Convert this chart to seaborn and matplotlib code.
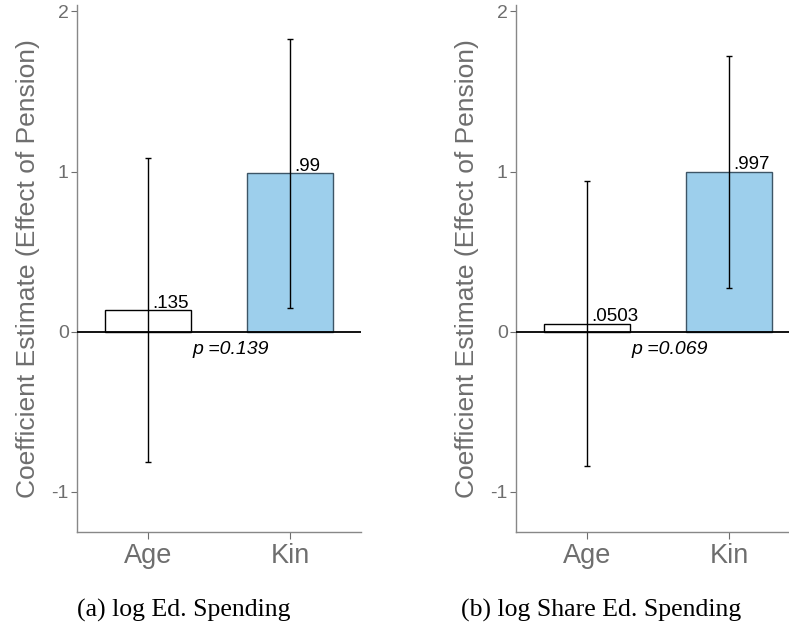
"""
Pension effect on education spending: Age vs Kin coefficient estimates.
"""

import numpy as np
import pandas as pd
import matplotlib
matplotlib.use('Agg')
import matplotlib.pyplot as plt
import seaborn as sns

sns.set_style('white')
plt.rcParams['font.family'] = ['Liberation Sans', 'DejaVu Sans']

# Data
categories = ['Age', 'Kin']
est_a = [0.135, 0.99]
ci_a = [0.95, 0.84]          # half-width of CI
est_b = [0.0503, 0.997]
ci_b = [0.89, 0.725]
labels_a = ['.135', '.99']
labels_b = ['.0503', '.997']
pvals = ['0.139', '0.069']
captions = ['(a) log Ed. Spending', '(b) log Share Ed. Spending']

bar_colors = ['white', '#9dcfec']
edge_colors = ['black', '#3d5566']
gray = '#6e6e6e'

fig = plt.figure(figsize=(7.89, 6.28), dpi=100)
ax_a = fig.add_axes([77 / 789, 96 / 628, 284 / 789, 527 / 628])
ax_b = fig.add_axes([516 / 789, 96 / 628, 284 / 789, 527 / 628])

panels = [
    (ax_a, est_a, ci_a, labels_a, pvals[0], captions[0], 184),
    (ax_b, est_b, ci_b, labels_b, pvals[1], captions[1], 601),
]

for ax, est, ci, labs, p, cap, cap_x in panels:
    df = pd.DataFrame({'group': categories, 'estimate': est})
    sns.barplot(data=df, x='group', y='estimate', hue='group',
                palette=bar_colors, width=0.6, errorbar=None,
                saturation=1, legend=False, ax=ax, zorder=2)
    for patch, ec in zip(ax.patches, edge_colors):
        patch.set_edgecolor(ec)
        patch.set_linewidth(1.0)

    xs = np.arange(len(categories))
    ax.errorbar(xs, est, yerr=ci, fmt='none', ecolor='black',
                elinewidth=1.0, capsize=2.5, capthick=1.0, zorder=4)
    ax.axhline(0, color='black', linewidth=1.3, zorder=3)

    for x, v, lab in zip(xs, est, labs):
        ax.annotate(lab, (x, v), xytext=(3, -1), textcoords='offset points',
                    ha='left', va='bottom', fontsize=13.5, color='black',
                    zorder=5)

    ax.text(0.58, -0.11, f'p ={p}', ha='center', va='center',
            fontsize=14, style='italic', color='black')

    ax.set_xlim(-0.5, 1.5)
    ax.set_ylim(-1.25, 2.04)
    ax.set_yticks([-1, 0, 1, 2])
    ax.set_yticklabels(['-1', '0', '1', '2'])
    ax.set_xlabel('')
    ax.set_ylabel('Coefficient Estimate (Effect of Pension)', fontsize=19,
                  color=gray, labelpad=8)

    sns.despine(ax=ax)
    for side in ['left', 'bottom']:
        ax.spines[side].set_color('#888888')
        ax.spines[side].set_linewidth(1.0)
    ax.tick_params(axis='y', colors=gray, labelsize=14, length=4,
                   width=0.8, direction='out', left=True, pad=2)
    ax.tick_params(axis='x', colors=gray, labelsize=19.5, length=5,
                   width=0.8, direction='out', bottom=True, pad=3)
    for t in ax.get_xticklabels() + ax.get_yticklabels():
        t.set_color(gray)

    fig.text(cap_x / 789, 1 - 610 / 628, cap, ha='center', va='center',
             fontsize=18.5, family=['Liberation Serif', 'DejaVu Serif'],
             color='black')

fig.savefig('out.png', dpi=100)
